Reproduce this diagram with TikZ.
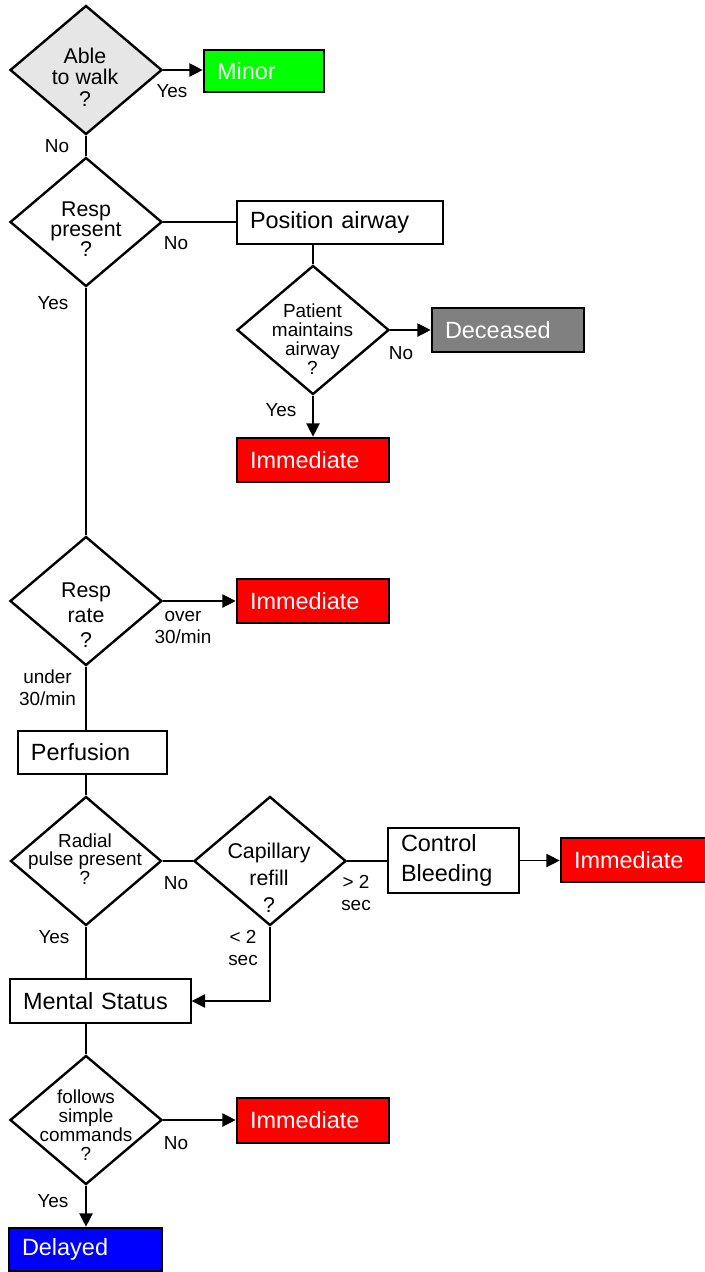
\documentclass[tikz,border=0pt]{standalone}
\usepackage{fontspec}
\setmainfont{Liberation Sans}
\usetikzlibrary{shapes.geometric,arrows.meta}
\setlength{\lineskiplimit}{-100pt}
\newcommand{\boxfnt}{\fontsize{17.6pt}{22.5pt}\selectfont}
\newcommand{\lblfnt}{\fontsize{14.2pt}{16.5pt}\selectfont}
\definecolor{lgray}{HTML}{E6E6E6}
\definecolor{dgray}{HTML}{808080}
\begin{document}
\begin{tikzpicture}[x=0.75pt,y=-0.75pt,
  dia/.style={diamond,draw,line width=1.8pt,minimum width=114pt,minimum height=96.75pt,inner sep=0pt},
  dtext/.style={align=center,inner sep=0pt},
  tbox/.style={rectangle,draw,line width=1pt,inner xsep=9.75pt,inner ysep=0pt,align=left,font=\boxfnt,fill=white},
  cbox/.style={rectangle,draw,line width=2pt,inner xsep=9.75pt,inner ysep=0pt,align=left,font=\boxfnt,text=white},
  lbl/.style={align=center,inner sep=0pt,font=\lblfnt},
  conn/.style={line width=1pt},
  arr/.style={line width=1pt,-{Triangle[length=10pt,width=10pt]}}
]
\useasboundingbox (0,0) rectangle (705,1272);

% diamonds
\node[dia,fill=lgray] (d1) at (86,70) {};
\node[dia] (d2) at (86,222) {};
\node[dia] (d3) at (313,330) {};
\node[dia] (d4) at (86,601) {};
\node[dia,minimum width=113.25pt] (d5) at (86,861) {};
\node[dia] (d6) at (270,861) {};
\node[dia] (d7) at (86,1120) {};

% diamond texts
\node[dtext,font=\fontsize{16pt}{16.1pt}\selectfont] (t1) at (85,77) {Able\\to walk\\?};
\node[dtext,font=\fontsize{16pt}{15pt}\selectfont] (t2) at (86,229.5) {Resp\\present\\?};
\node[dtext,font=\fontsize{14.2pt}{14.25pt}\selectfont] (t3) at (312.5,339) {Patient\\maintains\\airway\\?};
\node[dtext,font=\fontsize{16pt}{18.75pt}\selectfont] (t4) at (86,615) {Resp\\rate\\?};
\node[dtext,font=\fontsize{14.2pt}{13.9pt}\selectfont] (t5) at (85,859) {Radial\\pulse present\\?};
\node[dtext,font=\fontsize{16pt}{20.25pt}\selectfont] (t6) at (269,877.5) {Capillary\\refill\\?};
\node[dtext,font=\fontsize{14.2pt}{14.25pt}\selectfont] (t7) at (86,1125) {follows\\simple\\commands\\?};

% boxes
\node[cbox,fill=green,text width=70.5pt,minimum height=31.5pt] (minor) at (264,71) {Minor};
\node[tbox,text width=135pt,minimum height=32.25pt] (posair) at (340,222.5) {Position airway};
\node[cbox,fill=dgray,text width=94.5pt,minimum height=33pt] (dec) at (508,330) {Deceased};
\node[cbox,fill=red,text width=94.5pt,minimum height=33pt] (imm1) at (313,460) {Immediate};
\node[cbox,fill=red,text width=94.5pt,minimum height=33pt] (imm2) at (313,601) {Immediate};
\node[tbox,text width=92.25pt,minimum height=32.25pt] (perf) at (92.5,752.5) {Perfusion};
\node[tbox,text width=78.75pt,minimum height=48.75pt] (ctrl) at (453.5,860.5) {Control\\Bleeding};
\node[cbox,fill=red,text width=94.5pt,minimum height=33pt] (imm3) at (637,860) {Immediate};
\node[tbox,text width=116.25pt,minimum height=33pt] (mental) at (100.5,1001) {Mental Status};
\node[cbox,fill=red,text width=94.5pt,minimum height=33.75pt] (imm4) at (313,1120.5) {Immediate};
\node[cbox,fill=blue,text width=95.25pt,minimum height=32.25pt] (delayed) at (85.5,1249.5) {Delayed};

% connectors
\draw[arr] (d1.east) -- (d1.east -| minor.west);
\draw[conn] (d1.south) -- (d2.north);
\draw[conn] (d2.east) -- (d2.east -| posair.west);
\draw[conn] (d3.north |- posair.south) -- (d3.north);
\draw[arr] (d3.east) -- (d3.east -| dec.west);
\draw[arr] (d3.south) -- (d3.south |- imm1.north);
\draw[conn] (d2.south) -- (d4.north);
\draw[arr] (d4.east) -- (d4.east -| imm2.west);
\draw[conn] (d4.south) -- (d4.south |- perf.north);
\draw[conn] (d5.north |- perf.south) -- (d5.north);
\draw[conn] (d5.east) -- (d6.west);
\draw[conn] (d6.east) -- (d6.east -| ctrl.west);
\draw[arr] (ctrl.east) -- (ctrl.east -| imm3.west);
\draw[conn] (d5.south) -- (d5.south |- mental.north);
\draw[arr] (d6.south) |- (mental.east);
\draw[conn] (d7.north |- mental.south) -- (d7.north);
\draw[arr] (d7.east) -- (d7.east -| imm4.west);
\draw[arr] (d7.south) -- (d7.south |- delayed.north);

% labels
\node[lbl] (l1) at (172,91) {Yes};
\node[lbl] (l2) at (57,146) {No};
\node[lbl] (l3) at (176,243) {No};
\node[lbl] (l4) at (53,303) {Yes};
\node[lbl] (l5) at (401,353) {No};
\node[lbl] (l6) at (281,410) {Yes};
\node[lbl] (l7) at (183,627.5) {over\\30/min};
\node[lbl] (l8) at (47.5,687.5) {under\\30/min};
\node[lbl] (l9) at (176,883) {No};
\node[lbl] (l10) at (54,937) {Yes};
\node[lbl] (l11) at (356,893) {{> 2}\\sec};
\node[lbl] (l12) at (243,948) {{< 2}\\sec};
\node[lbl] (l13) at (176,1143) {No};
\node[lbl] (l14) at (53,1201) {Yes};
\end{tikzpicture}
\end{document}
